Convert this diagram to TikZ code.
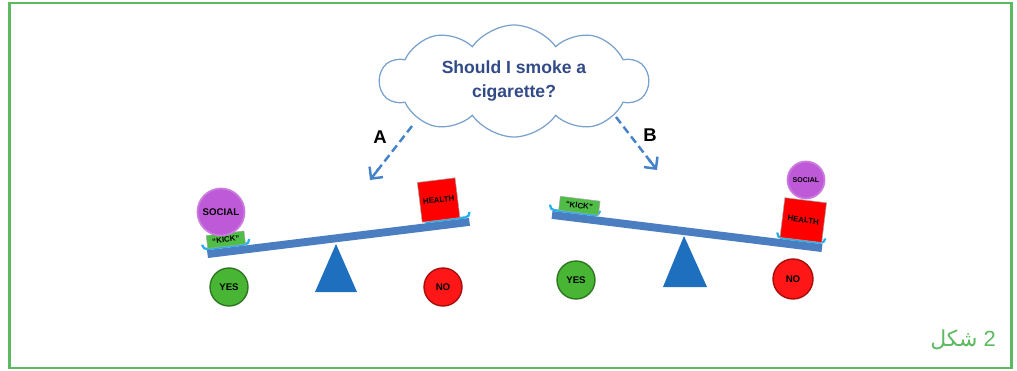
\documentclass[tikz,border=0pt]{standalone}
\usepackage{fontspec}
\setmainfont{Liberation Sans}
\newfontfamily\arabicfont[Script=Arabic]{DejaVu Sans}
\TeXXeTstate=1
\usepackage{xcolor}
\usetikzlibrary{arrows.meta,calc,shapes.symbols,positioning}
\definecolor{framegreen}{RGB}{92,186,96}
\definecolor{beamblue}{RGB}{74,126,193}
\definecolor{fulcrumblue}{RGB}{30,112,190}
\definecolor{cupblue}{RGB}{40,175,235}
\definecolor{kickgreen}{RGB}{80,190,70}
\definecolor{healthred}{RGB}{255,0,0}
\definecolor{socialpurple}{RGB}{190,90,215}
\definecolor{yesgreen}{RGB}{72,182,52}
\definecolor{nored}{RGB}{255,22,22}
\definecolor{cloudline}{RGB}{120,160,205}
\definecolor{cloudtext}{RGB}{50,75,135}
\definecolor{arrowblue}{RGB}{70,130,200}

\begin{document}
\begin{tikzpicture}[
    x=0.02cm, y=-0.02cm,
    >={Straight Barb[length=1.7mm,width=3.4mm]},
    flow/.style={draw=arrowblue,line width=1.4pt,dash pattern=on 4.5pt off 2.5pt},
    head/.style={->,draw=arrowblue,line width=1.4pt},
    beam/.style={draw=beamblue,line width=4.5pt},
    cup/.style={draw=cupblue,line width=1.3pt,rounded corners=2.5pt},
    fulcrum/.style={fill=fulcrumblue},
    block/.style={draw=black!35,line width=0.3pt,inner sep=0pt,
      font=\bfseries\fontsize{4.5}{5}\selectfont},
    ball/.style={circle,inner sep=0pt,font=\bfseries\fontsize{5.5}{6}\selectfont},
    tag/.style={font=\bfseries\fontsize{10.5}{12}\selectfont}
  ]
    \useasboundingbox (0,0) rectangle (1017,371);
    \draw[framegreen,line width=1.7pt] (9.5,3) rectangle (1011.5,368);

    % thought cloud
    \node[cloud,cloud puffs=10,cloud puff arc=110,cloud ignores aspect,
      minimum width=5.36cm,minimum height=2.24cm,inner sep=0pt,
      draw=cloudline,line width=0.7pt,fill=white,text=cloudtext,align=center,
      font=\bfseries\fontsize{10}{13.6}\selectfont] (thought) at (514,81)
      {Should I smoke a\\cigarette?};

    \coordinate (tailA) at (412,126);
    \coordinate (tipA) at (370,180);
    \coordinate (tailB) at (616,117);
    \coordinate (tipB) at (657,170);
    \draw[flow] (tailA) -- ($(tailA)!0.9!(tipA)$);
    \draw[head] ($(tailA)!0.8!(tipA)$) -- (tipA);
    \draw[flow] (tailB) -- ($(tailB)!0.9!(tipB)$);
    \draw[head] ($(tailB)!0.8!(tipB)$) -- (tipB);
    \node[tag] (labA) at (380,137) {A};
    \node[tag] (labB) at (650,135) {B};

    % seesaw A
    \fill[fulcrum] (336,244) -- (357,292) -- (315,292) -- cycle;
    \begin{scope}[shift={(338.5,238)},rotate=7,transform shape]
      \draw[beam] (-132,0) -- (132,0);
      \draw[cup] (-136,-10) -- (-136,-5) -- (-89,-5) -- (-89,-10);
      \draw[cup] (86,-10) -- (86,-5) -- (133,-5) -- (133,-10);
      \node[block,fill=kickgreen,minimum width=0.76cm,minimum height=0.26cm]
        (kickA) at (-112,-12) {“KICK”};
      \node[block,fill=healthred,minimum width=0.76cm,minimum height=0.8cm]
        (healthA) at (104,-25.5) {HEALTH};
    \end{scope}
    \node[ball,fill=socialpurple,draw=socialpurple!80,line width=1pt,
      minimum size=0.94cm] (socialA) at (221,212) {SOCIAL};
    \node[ball,fill=yesgreen,draw=yesgreen!65!black,line width=0.8pt,
      minimum size=0.76cm] (yesA) at (229,287) {YES};
    \node[ball,fill=nored,draw=nored!65!black,line width=0.8pt,
      minimum size=0.76cm] (noA) at (443,287) {NO};

    % seesaw B
    \fill[fulcrum] (684,236) -- (707,287) -- (663,287) -- cycle;
    \begin{scope}[shift={(687,231.5)},rotate=-7,transform shape]
      \draw[beam] (-136,0) -- (136,0);
      \draw[cup] (-139,-10) -- (-139,-5) -- (-89,-5) -- (-89,-10);
      \draw[cup] (90,-10) -- (90,-5) -- (138,-5) -- (138,-10);
      \node[block,fill=kickgreen,minimum width=0.8cm,minimum height=0.28cm]
        (kickB) at (-110,-12.5) {“KICK”};
      \node[block,fill=healthred,minimum width=0.84cm,minimum height=0.8cm]
        (healthB) at (114,-25.5) {HEALTH};
    \end{scope}
    \node[ball,fill=socialpurple,draw=socialpurple!80,line width=1pt,
      minimum size=0.74cm,font=\bfseries\fontsize{4}{5}\selectfont]
      (socialB) at (806,180) {SOCIAL};
    \node[ball,fill=yesgreen,draw=yesgreen!65!black,line width=0.8pt,
      minimum size=0.76cm] (yesB) at (576,280) {YES};
    \node[ball,fill=nored,draw=nored!65!black,line width=0.8pt,
      minimum size=0.8cm] (noB) at (793,279) {NO};

    \node[text=framegreen,font=\fontsize{12.5}{14}\selectfont] (figno) at (963,340)
      {{\arabicfont\beginR شكل\endR} 2};
  \end{tikzpicture}
\end{document}
